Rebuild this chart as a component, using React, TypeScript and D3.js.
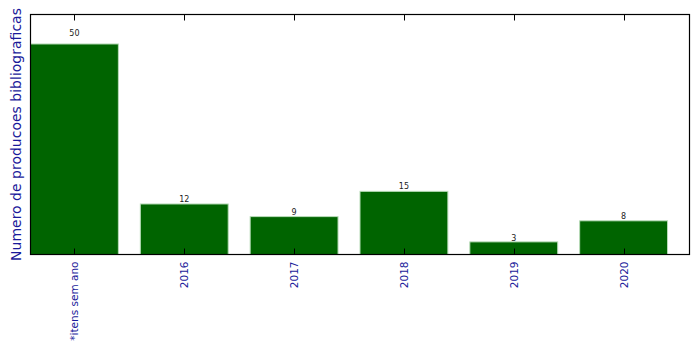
import React from "react";
import * as d3 from "d3";

const categories = ["*itens sem ano", "2016", "2017", "2018", "2019", "2020"];
const values = [50, 12, 9, 15, 3, 8];
const yLabel = "Numero de producoes bibliograficas";

const W = 699;
const H = 354;
const left = 30.5;
const right = 689.5;
const top = 14.5;
const bottom = 254.5;

export default function App() {
  const x = d3.scaleLinear().domain([-0.4, 5.6]).range([left, right]);
  const y = d3.scaleLinear().domain([0, 57]).range([bottom, top]);
  const bw = x(0.4) - x(-0.4);
  const blue = "#1a1a9a";
  return (
    <svg width={W} height={H} style={{ position: "absolute", left: 0, top: 0 }} fontFamily="DejaVu Sans">
      <rect x={0} y={0} width={W} height={H} fill="white" />
      {values.map((v, i) => (
        <rect
          key={i}
          x={x(i) - bw / 2}
          y={y(v)}
          width={bw}
          height={y(0) - y(v)}
          fill="#006400"
          stroke="#b8dcb8"
          strokeWidth={1}
        />
      ))}
      {values.map((v, i) => (
        <text key={"l" + i} x={x(i)} y={y(v * 1.035 + 0.82) + 3} textAnchor="middle" fontSize={8} fill="#222">
          {v}
        </text>
      ))}
      <rect x={left} y={top} width={right - left} height={bottom - top} fill="none" stroke="black" strokeWidth={1.2} />
      {categories.map((c, i) => (
        <g key={"t" + i}>
          <line x1={Math.round(x(i)) + 0.5} x2={Math.round(x(i)) + 0.5} y1={bottom} y2={bottom - 6} stroke="black" />
          <line x1={Math.round(x(i)) + 0.5} x2={Math.round(x(i)) + 0.5} y1={top} y2={top + 6} stroke="black" />
          <text
            transform={`translate(${x(i) + 4},${bottom + 7}) rotate(-90)`}
            textAnchor="end"
            fontSize={10.5}
            fill={blue}
          >
            {c}
          </text>
        </g>
      ))}
      <text
        transform={`translate(${21},${(top + bottom) / 2}) rotate(-90)`}
        textAnchor="middle"
        fontSize={14}
        fill={blue}
      >
        {yLabel}
      </text>
    </svg>
  );
}
